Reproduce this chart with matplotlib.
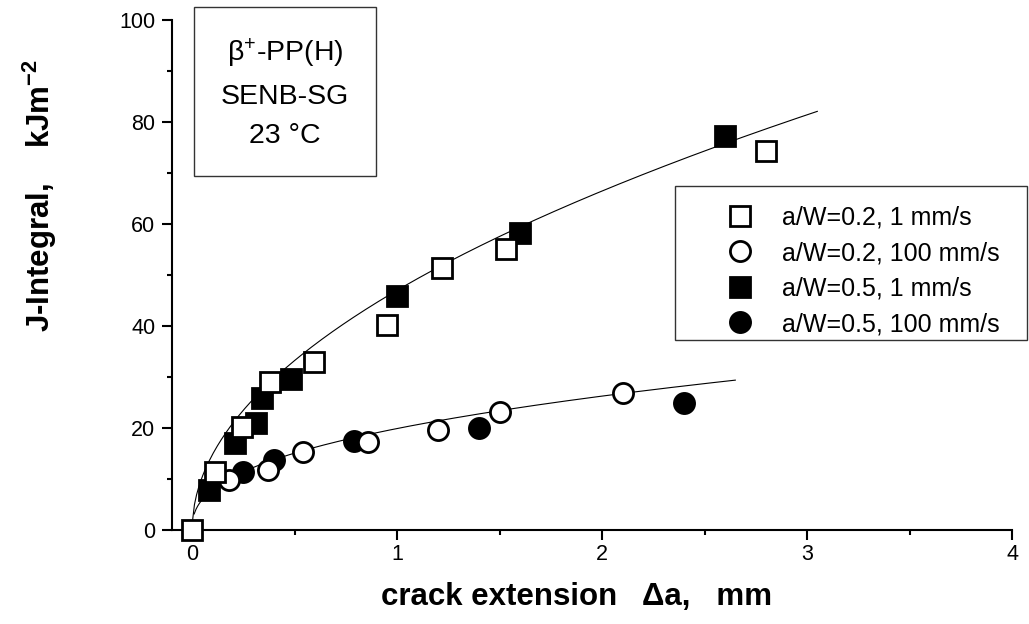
import numpy as np
import matplotlib
matplotlib.use('Agg')
import matplotlib.pyplot as pl
from matplotlib.patches import Rectangle

pl.rcParams['font.family'] = ['Liberation Sans', 'DejaVu Sans']
pl.rcParams['mathtext.fontset'] = 'custom'
pl.rcParams['mathtext.rm'] = 'Liberation Sans'
pl.rcParams['mathtext.it'] = 'Liberation Sans:italic'
pl.rcParams['mathtext.bf'] = 'Liberation Sans:bold'

# crack extension (mm) and J-integral (kJ/m^2) for each test series
da_02_slow = [0.0, 0.11, 0.245, 0.38, 0.595, 0.95, 1.22, 1.53, 2.80]
J_02_slow = [0.0, 11.3, 20.2, 29.0, 33.0, 40.2, 51.4, 55.0, 74.3]

da_02_fast = [0.18, 0.37, 0.54, 0.86, 1.20, 1.50, 2.10]
J_02_fast = [9.8, 11.8, 15.2, 17.2, 19.7, 23.2, 26.8]

da_05_slow = [0.08, 0.21, 0.31, 0.34, 0.48, 1.0, 1.6, 2.6]
J_05_slow = [7.8, 17.0, 21.0, 25.8, 29.6, 45.8, 58.3, 77.2]

da_05_fast = [0.25, 0.40, 0.79, 1.40, 2.40]
J_05_fast = [11.4, 13.8, 17.5, 20.0, 25.0]

labels = ['a/W=0.2, 1 mm/s', 'a/W=0.2, 100 mm/s',
          'a/W=0.5, 1 mm/s', 'a/W=0.5, 100 mm/s']

# power-law R-curves  J = C * da^n  (C, n, da range)
fit_1mm = (47.0, 0.50, 0.001, 3.05)
fit_100mm = (19.9, 0.40, 0.01, 2.65)

W, H = 1029, 624
fig = pl.figure(figsize=(W / 100, H / 100), dpi=100)
ax = fig.add_axes([0.1672, 0.1506, 0.8163, 0.8174])

ms = 14.5
mew = 2.0
series = [
    (da_02_slow, J_02_slow, 's', 'white', 6),
    (da_02_fast, J_02_fast, 'o', 'white', 4),
    (da_05_slow, J_05_slow, 's', 'black', 5),
    (da_05_fast, J_05_fast, 'o', 'black', 3),
]
for (x, y, mk, fc, z), lab in zip(series, labels):
    ax.plot(x, y,
            linestyle='none',
            marker=mk,
            markersize=ms,
            markerfacecolor=fc,
            markeredgecolor='black',
            markeredgewidth=mew,
            clip_on=False,
            zorder=z,
            label=lab)

# fitted curves
for C, n, x0, x1 in (fit_1mm, fit_100mm):
    x_ = np.linspace(x0, x1, 300)
    ax.plot(x_, C * x_**n, color='black', linewidth=0.8, zorder=2,
            label='_nolegend_')

ax.set_xlim(-0.098, 4.0)
ax.set_ylim(0, 100)
ax.set_xticks([0, 1, 2, 3, 4])
ax.set_xticks([0.5, 1.5, 2.5, 3.5], minor=True)
ax.set_yticks([0, 20, 40, 60, 80, 100])
ax.set_yticks([10, 30, 50, 70, 90], minor=True)

for s in ('top', 'right'):
    ax.spines[s].set_visible(False)
for s in ('left', 'bottom'):
    ax.spines[s].set_linewidth(1.5)

ax.tick_params(which='major', direction='out', length=7, width=1.5,
               labelsize=15.5)
ax.tick_params(axis='x', which='major', pad=3)
ax.tick_params(axis='y', which='major', pad=5)
ax.tick_params(which='minor', direction='out', length=3.5, width=1.5)

ax.set_xlabel('crack extension   \u0394a,   mm', fontsize=22.5,
              fontweight='bold')
ax.xaxis.set_label_coords(0.481, -0.102)
ax.set_ylabel(r'J-Integral,    kJm$^{\mathbf{-2}}$', fontsize=22.5,
              fontweight='bold')
ax.yaxis.set_label_coords(-0.135, 0.655)

# legend entries without frame; the box is drawn separately
leg = ax.legend(loc='upper left',
                bbox_to_anchor=(675 / W, 1 - 183 / H),
                bbox_transform=fig.transFigure,
                fontsize=18,
                numpoints=1,
                frameon=False,
                borderpad=0.9,
                borderaxespad=0,
                handlelength=3.4,
                handletextpad=0.0,
                labelspacing=0.46)
fig.patches.append(Rectangle((675 / W, 1 - 340 / H), 352 / W, 154 / H,
                             transform=fig.transFigure, fill=False,
                             edgecolor='#333333', linewidth=1.0))

fig.text(285 / W, 1 - 93 / H,
         '$\\mathrm{\\beta}^{+}$-PP(H)\nSENB-SG\n23 \u00b0C',
         ha='center', va='center', multialignment='center',
         fontsize=20.5, linespacing=1.68,
         bbox=dict(boxstyle='square,pad=0.95', facecolor='white',
                   edgecolor='#333333', linewidth=1.0))

fig.savefig('out.png', dpi=100)
